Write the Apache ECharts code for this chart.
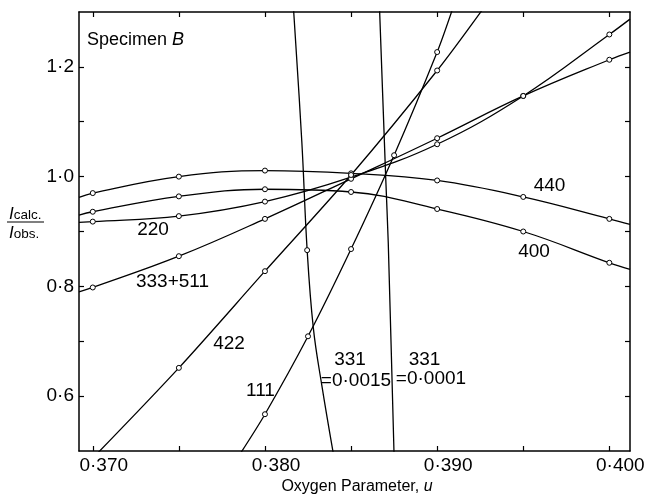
<!DOCTYPE html>
<html>
<head>
<meta charset="utf-8">
<script src="https://cdn.jsdelivr.net/npm/echarts@6/dist/echarts.min.js"></script>
<style>
html,body{margin:0;padding:0;background:#fff;}
#chart{width:651px;height:496px;}
</style>
</head>
<body>
<div id="chart"></div>
<script>
// ---- Data (u = oxygen parameter, r = Icalc/Iobs) ----
const xTicks = [0.370, 0.375, 0.380, 0.385, 0.390, 0.395, 0.400];
const xLabels = [0.370, 0.380, 0.390, 0.400];
const yTicks = [0.6, 0.7, 0.8, 0.9, 1.0, 1.1, 1.2];
const yLabels = [0.6, 0.8, 1.0, 1.2];

const u440 = [0.3692, 0.370, 0.375, 0.380, 0.385, 0.390, 0.395, 0.400, 0.4012];
const r440 = [0.962, 0.970, 1.000, 1.011, 1.006, 0.993, 0.963, 0.923, 0.913];
const m440 = [0, 1, 1, 1, 1, 1, 1, 1, 0];

const u400 = [0.3692, 0.370, 0.375, 0.380, 0.385, 0.390, 0.395, 0.400, 0.4012];
const r400 = [0.930, 0.936, 0.964, 0.977, 0.972, 0.941, 0.900, 0.843, 0.831];
const m400 = [0, 1, 1, 1, 1, 1, 1, 1, 0];

const u220 = [0.3692, 0.370, 0.375, 0.380, 0.385, 0.390, 0.395, 0.400, 0.4012];
const r220 = [0.9165, 0.918, 0.928, 0.9545, 0.999, 1.059, 1.147, 1.259, 1.287];
const m220 = [0, 1, 1, 1, 1, 1, 1, 1, 0];

const u333 = [0.3692, 0.370, 0.375, 0.380, 0.385, 0.390, 0.395, 0.400, 0.4012];
const r333 = [0.790, 0.798, 0.855, 0.923, 0.996, 1.070, 1.147, 1.213, 1.227];
const m333 = [0, 1, 1, 1, 1, 1, 1, 1, 0];

const u422 = [0.370, 0.375, 0.380, 0.385, 0.390, 0.3926];
const r422 = [0.487, 0.6515, 0.8277, 1.003, 1.1934, 1.303];
const m422 = [0, 1, 1, 1, 1, 0];

const u111 = [0.3785, 0.380, 0.3825, 0.385, 0.3875, 0.390, 0.3909];
const r111 = [0.492, 0.567, 0.709, 0.868, 1.039, 1.227, 1.306];
const m111 = [0, 1, 1, 1, 1, 1, 0];

const u331a = [0.38165, 0.38214, 0.38245, 0.38281, 0.3833, 0.3840];
const r331a = [1.310, 1.064, 0.866, 0.724, 0.620, 0.490];
const m331a = [0, 0, 1, 0, 0, 0];

const u331b = [0.38665, 0.38701, 0.38716, 0.3875];
const r331b = [1.310, 1.000, 0.880, 0.490];
const m331b = [0, 0, 0, 0];

const FONT = "'Liberation Sans', Arial, Helvetica, sans-serif";
const dot = s => s.replace('.', '\u00b7');

function mk(name, u, r, m, smooth) {
  return {
    name: name, type: 'line', xAxisIndex: 0, yAxisIndex: 0,
    smooth: smooth, showSymbol: true, symbolSize: 5,
    data: u.map((x, i) => ({ value: [x, r[i]], symbol: m[i] ? 'circle' : 'none' })),
    lineStyle: { color: '#000', width: 1.3 },
    itemStyle: { color: '#fff', borderColor: '#000', borderWidth: 1 },
    emphasis: { disabled: true }, silent: true, z: 3
  };
}

const axisLine = { show: true, onZero: false, lineStyle: { color: '#000', width: 1.5 } };
const tickStyle = { color: '#000', width: 1.2 };

const chart = echarts.init(document.getElementById('chart'), null, { renderer: 'canvas' });

function lbl(text, x, y, size) {
  return { type: 'text', x: x, y: y, silent: true,
    style: { text: text, fill: '#000', font: (size || 19) + 'px ' + FONT, align: 'center', verticalAlign: 'middle' } };
}

chart.setOption({
  animation: false,
  backgroundColor: '#fff',
  grid: { left: 79, right: 21, top: 12, bottom: 45, containLabel: false, outerBoundsMode: 'none' },
  xAxis: [
    { type: 'value', position: 'bottom', min: 0.3692, max: 0.4012,
      axisLine: axisLine,
      axisTick: { show: true, inside: true, length: 5, customValues: xTicks, lineStyle: tickStyle },
      axisLabel: { show: true, customValues: xLabels, formatter: v => dot(v.toFixed(3)),
        fontSize: 19, fontFamily: FONT, color: '#000', margin: 5, padding: [0, 0, 0, 22] },
      splitLine: { show: false } },
    { type: 'value', position: 'top', min: 0.3692, max: 0.4012,
      axisLine: axisLine,
      axisTick: { show: true, inside: true, length: 5, customValues: xTicks, lineStyle: tickStyle },
      axisLabel: { show: false }, splitLine: { show: false } }
  ],
  yAxis: [
    { type: 'value', position: 'left', min: 0.5, max: 1.3,
      axisLine: axisLine,
      axisTick: { show: true, inside: true, length: 5, customValues: yTicks, lineStyle: tickStyle },
      axisLabel: { show: true, customValues: yLabels, formatter: v => dot(v.toFixed(1)),
        fontSize: 19, fontFamily: FONT, color: '#000', margin: 5 },
      splitLine: { show: false } },
    { type: 'value', position: 'right', min: 0.5, max: 1.3,
      axisLine: axisLine,
      axisTick: { show: true, inside: true, length: 5, customValues: yTicks, lineStyle: tickStyle },
      axisLabel: { show: false }, splitLine: { show: false } }
  ],
  series: [
    mk('440', u440, r440, m440, 0.4),
    mk('400', u400, r400, m400, 0.4),
    mk('220', u220, r220, m220, 0.4),
    mk('333+511', u333, r333, m333, 0.4),
    mk('422', u422, r422, m422, 0.3),
    mk('111', u111, r111, m111, 0.3),
    mk('331 =0·0015', u331a, r331a, m331a, 0.4),
    mk('331 =0·0001', u331b, r331b, m331b, 0.2)
  ],
  graphic: [
    { type: 'text', x: 87, y: 40, silent: true,
      style: { text: 'Specimen {b|B}', fill: '#000', font: '18px ' + FONT, align: 'left', verticalAlign: 'middle',
        rich: { b: { fontStyle: 'italic', fontSize: 18, fontFamily: FONT, fill: '#000' } } } },
    { type: 'text', x: 357, y: 487, silent: true,
      style: { text: 'Oxygen Parameter, {i|u}', fill: '#000', font: '16px ' + FONT, align: 'center', verticalAlign: 'middle',
        rich: { i: { fontStyle: 'italic', fontSize: 16, fontFamily: FONT, fill: '#000' } } } },
    lbl('440', 549.5, 186),
    lbl('400', 534, 252),
    lbl('220', 153, 229.5),
    lbl('333+511', 172.5, 282),
    lbl('422', 229, 343.5),
    lbl('111', 260.5, 391),
    lbl('331', 350, 360),
    lbl('=0\u00b70015', 356, 380.5),
    lbl('331', 424.5, 360),
    lbl('=0\u00b70001', 431, 379),
    // y-axis quantity: I_calc. / I_obs.
    { type: 'text', x: 9, y: 214, silent: true,
      style: { text: '{i|I}{s|calc.}', fill: '#000', font: '16px ' + FONT, align: 'left', verticalAlign: 'middle',
        rich: { i: { fontStyle: 'italic', fontSize: 17, fontFamily: FONT, fill: '#000', verticalAlign: 'bottom' },
                s: { fontSize: 13.5, fontFamily: FONT, fill: '#000', verticalAlign: 'bottom' } } } },
    { type: 'line', silent: true, shape: { x1: 7, y1: 222, x2: 44, y2: 222 },
      style: { stroke: '#000', lineWidth: 1.2 } },
    { type: 'text', x: 9, y: 233, silent: true,
      style: { text: '{i|I}{s|obs.}', fill: '#000', font: '16px ' + FONT, align: 'left', verticalAlign: 'middle',
        rich: { i: { fontStyle: 'italic', fontSize: 17, fontFamily: FONT, fill: '#000', verticalAlign: 'bottom' },
                s: { fontSize: 13.5, fontFamily: FONT, fill: '#000', verticalAlign: 'bottom' } } } }
  ]
});
</script>
</body>
</html>
